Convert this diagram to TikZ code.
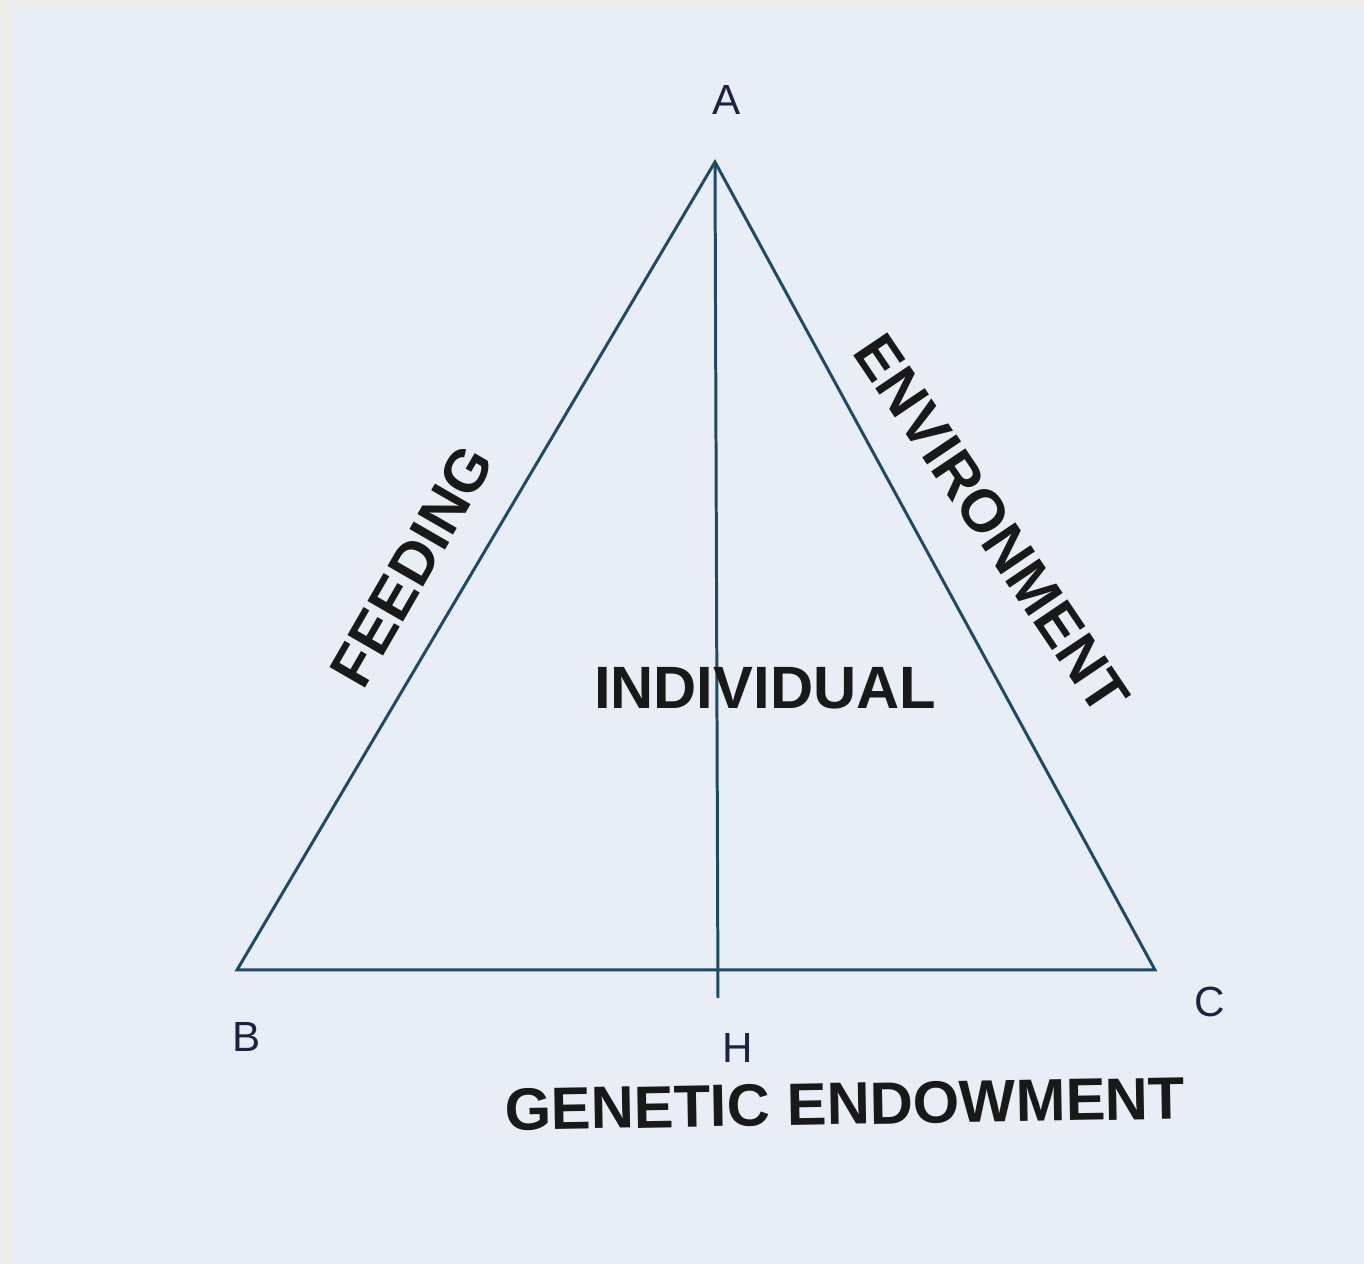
\documentclass[tikz,border=0pt]{standalone}
\usepackage{fontspec}
\setmainfont{Liberation Sans}
\definecolor{paper}{HTML}{E9EEF6}
\definecolor{frame}{HTML}{ECECE8}
\definecolor{pen}{HTML}{1F4A62}
\definecolor{ink}{HTML}{1C2340}
\tikzset{
    vertex/.style={font=\fontsize{12}{14}\selectfont, text=ink, inner sep=0pt},
    hand/.style={font=\fontsize{17}{20}\selectfont\bfseries, text=black!90, inner sep=0pt},
}
\begin{document}
\begin{tikzpicture}[line width=0.85pt]
    \useasboundingbox (0,0) rectangle (13.64,12.64);
    \fill[frame] (0,0) rectangle (13.64,12.64);
    \fill[paper] (0.11,0) rectangle (13.64,12.57);

    % corners of the triangle and foot of the median
    \coordinate (A) at (7.15,11.02);
    \coordinate (B) at (2.37,2.94);
    \coordinate (C) at (11.55,2.94);
    \coordinate (H) at (7.18,2.66);

    \draw[pen, line join=miter] (A) -- (B) -- (C) -- cycle;
    \draw[pen] (A) -- (H);

    \node[vertex] (la) at (7.27,11.64) {A};
    \node[vertex] (lb) at (2.47,2.27) {B};
    \node[vertex] (lc) at (12.10,2.62) {C};
    \node[vertex] (lh) at (7.38,2.16) {H};

    \node[hand, rotate=60] (feed) at (4.12,6.98) {FEEDING};
    \node[hand, rotate=-56] (env) at (9.92,7.40) {ENVIRONMENT};
    \node[hand] (indiv) at (7.65,5.76) {INDIVIDUAL};
    \node[hand, rotate=1] (gene) at (8.45,1.60) {GENETIC ENDOWMENT};
\end{tikzpicture}
\end{document}
